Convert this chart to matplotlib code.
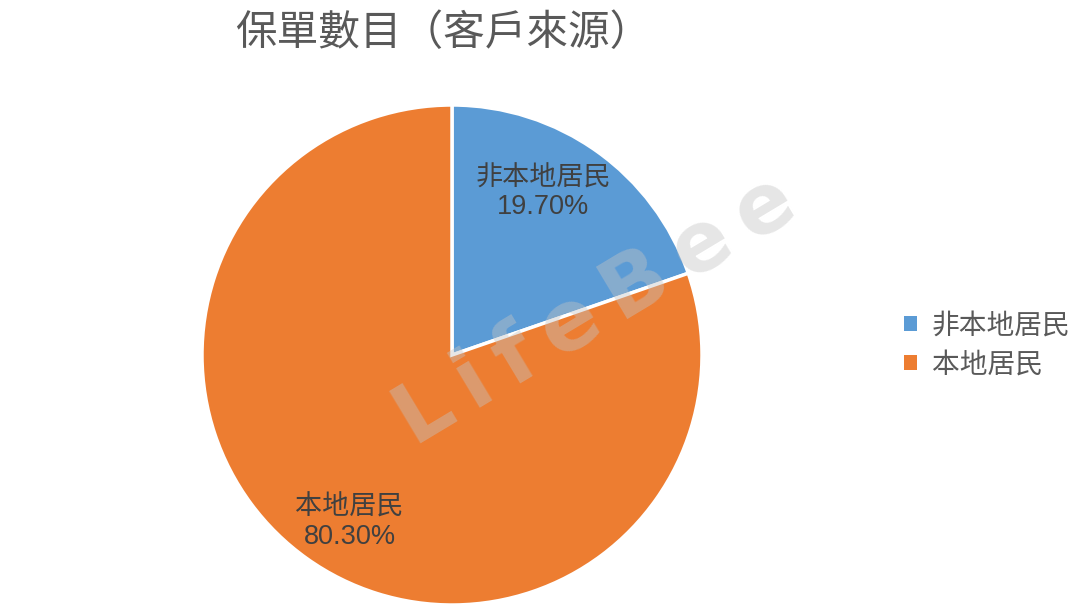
import matplotlib
matplotlib.use("Agg")
import matplotlib.pyplot as plt
from matplotlib.patches import Patch

plt.rcParams['font.family'] = ['Noto Sans CJK TC', 'DejaVu Sans']
mixed = ['Liberation Sans', 'Noto Sans CJK TC']

# 數據
categories = ['非本地居民', '本地居民']
values = [19.70, 80.30]
colors = ['#5B9BD5', '#ED7D31']
title = '保單數目（客戶來源）'
watermark = 'LifeBee'

fig = plt.figure(figsize=(10.8, 6.1), dpi=100)

# 圓餅圖位置 (中心約在 452,355 px, 半徑 250 px)
ax = fig.add_axes([202 / 1080, 5 / 610, 500 / 1080, 500 / 610])
wedges, _ = ax.pie(values, colors=colors, startangle=90, counterclock=False,
                   radius=1.0, wedgeprops=dict(edgecolor='white', linewidth=2.5))
ax.set_xlim(-1, 1)
ax.set_ylim(-1, 1)
ax.set_aspect('equal')

# 數據標籤
label_pos = [(0.364, 0.648), (-0.41, -0.668)]
for cat, val, (x, y) in zip(categories, values, label_pos):
    ax.text(x, y, f'{cat}\n{val:.2f}%', ha='center', va='center',
            fontsize=19.5, color='#404040', linespacing=1.15, family=mixed)

# 標題
fig.text(0.41, 0.945, title, ha='center', va='center', fontsize=30,
         color='#595959', fontweight='light')

# 圖例
handles = [Patch(facecolor=c, edgecolor='none') for c in colors]
fig.legend(handles, categories, loc='center left', bbox_to_anchor=(0.814, 0.433),
           frameon=False, prop=dict(size=20, family=mixed), handlelength=0.45,
           handleheight=0.45, labelspacing=0.45, handletextpad=0.55,
           labelcolor='#595959')

# 浮水印 (字母間加細空格)
fig.text(0.552, 0.49, '\u2009'.join(watermark), ha='center', va='center',
         fontsize=60, fontweight='bold', color='#c4c4c4', alpha=0.42,
         rotation=31, family='DejaVu Sans')

fig.savefig('out.png', dpi=100)
